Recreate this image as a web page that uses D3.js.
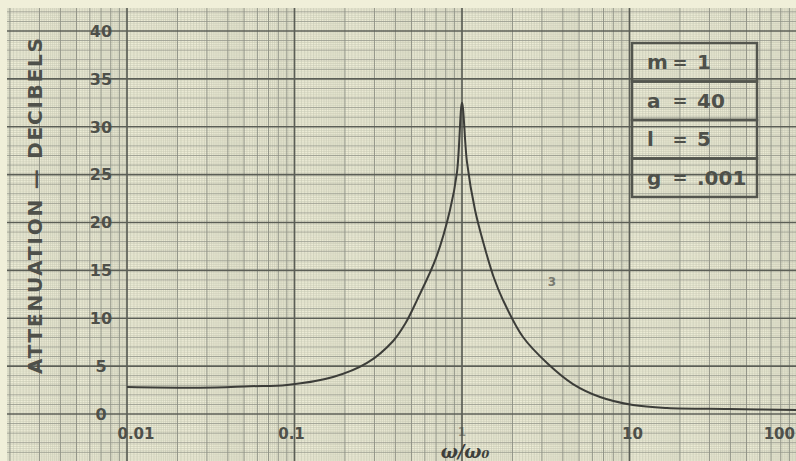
<!DOCTYPE html>
<html lang="en">
<head>
<meta charset="utf-8">
<title>Attenuation vs frequency</title>
<script src="https://d3js.org/d3.v7.min.js"></script>
<style>
  html, body { margin: 0; padding: 0; background: #f0efd9; }
  svg { display: block; }
  .lbl { font-family: "DejaVu Sans", sans-serif; font-weight: bold; fill: #4e504a; }
</style>
</head>
<body>
<div id="chart"></div>
<script>
// values
var omega = [0.01, 0.0273, 0.0542, 0.0902, 0.170, 0.271, 0.387, 0.457, 0.539, 0.700, 0.848, 0.934, 1.0,
             1.071, 1.196, 1.353, 1.552, 1.757, 2.313, 3.218, 4.60, 6.67, 10.5, 16.75, 39.3, 100];
var atten = [2.82, 2.75, 2.9, 3.03, 3.86, 5.33, 7.6, 9.4, 11.9, 16.3, 21.3, 25.3, 32.5,
             26.3, 21.3, 17.65, 14.2, 11.9, 8.04, 5.33, 3.13, 1.78, 0.94, 0.63, 0.52, 0.42];

var xTicks = [0.01, 0.1, 1, 10, 100];
var xTickLabels = ["0.01", "0.1", "1", "10", "100"];
var yTicks = [0, 5, 10, 15, 20, 25, 30, 35, 40];

var paramNames = ["m", "a", "l", "g"];
var paramValues = ["1", "40", "5", ".001"];

var width = 796, height = 461;

var svg = d3.select("#chart").append("svg")
    .attr("width", width)
    .attr("height", height);

var x = d3.scaleLog().domain([0.01, 100]).range([127, 797]);
var y = d3.scaleLinear().domain([0, 40]).range([414, 31]);

svg.append("rect").attr("width", width).attr("height", height).attr("fill", "#f0efd9");

svg.append("clipPath").attr("id", "paper")
  .append("rect").attr("x", 7).attr("y", 8).attr("width", width - 7).attr("height", height - 8);

var grid = svg.append("g").attr("clip-path", "url(#paper)");

// log graph paper: vertical rulings
var vFine = [], vMed = [], vThick = [];
[0.001, 0.01, 0.1, 1, 10].forEach(function(b) {
  vThick.push(b);
  for (var i = 21; i < 40; i++) if (i % 20) vFine.push(b * i / 20);   // 1-2 by .05
  for (var i = 21; i < 50; i++) if (i % 10) vFine.push(b * i / 10);   // 2-5 by .1
  for (var i = 26; i < 50; i++) if (i % 5) vFine.push(b * i / 5);     // 5-10 by .2
  for (var k = 2; k < 10; k++) vMed.push(b * k);
});
vThick.push(100);

// linear rulings every 0.2 dB
var hFine = [], hMed = [], hThick = [];
for (var i = -35; i <= 225; i++) {
  var v = i / 5;
  if (i % 25 === 0) hThick.push(v);
  else if (i % 5 === 0) hMed.push(v);
  else hFine.push(v);
}

function vlines(data, color, w) {
  grid.append("g").selectAll("line").data(data).enter().append("line")
    .attr("x1", function(d) { return x(d); }).attr("x2", function(d) { return x(d); })
    .attr("y1", 0).attr("y2", height)
    .attr("stroke", color).attr("stroke-width", w);
}
function hlines(data, color, w) {
  grid.append("g").selectAll("line").data(data).enter().append("line")
    .attr("y1", function(d) { return y(d); }).attr("y2", function(d) { return y(d); })
    .attr("x1", 0).attr("x2", width)
    .attr("stroke", color).attr("stroke-width", w);
}
hlines(hFine, "#c6c7b4", 0.6);
vlines(vFine, "#c6c7b4", 0.6);
hlines(hMed, "#979a8d", 0.9);
vlines(vMed, "#8f9286", 1);
hlines(hThick, "#5b5e56", 1.7);
vlines(vThick, "#5b5e56", 1.7);

// curve
var line = d3.line()
  .x(function(d, i) { return x(omega[i]); })
  .y(function(d) { return y(d); })
  .curve(d3.curveCatmullRom.alpha(0.5));

svg.append("path")
  .attr("d", line(atten))
  .attr("fill", "none")
  .attr("stroke", "#3c3d39")
  .attr("stroke-width", 2);

// tick labels
svg.append("g").selectAll("text").data(yTicks).enter().append("text")
  .attr("class", "lbl")
  .attr("x", 101).attr("y", function(d) { return y(d); })
  .attr("dy", "0.36em")
  .attr("text-anchor", "middle")
  .attr("font-size", 16)
  .text(function(d) { return d; });

svg.append("g").selectAll("text").data(xTicks).enter().append("text")
  .attr("class", "lbl")
  .attr("x", function(d, i) {
    if (i === 0) return x(d) + 9;
    if (i === xTicks.length - 1) return 795;
    return x(d) + (i === 1 ? -3 : i === 3 ? 3 : 0);
  })
  .attr("y", function(d, i) { return i === 2 ? 436 : 439; })
  .attr("text-anchor", function(d, i) { return i === xTicks.length - 1 ? "end" : "middle"; })
  .attr("font-size", function(d, i) { return i === 2 ? 12 : 15; })
  .attr("fill-opacity", function(d, i) { return i === 2 ? 0.6 : 1; })
  .text(function(d, i) { return xTickLabels[i]; });

svg.append("text")
  .attr("x", 465).attr("y", 458)
  .attr("text-anchor", "middle")
  .attr("font-family", "DejaVu Serif, serif")
  .attr("font-style", "italic")
  .attr("font-weight", "bold")
  .attr("font-size", 18)
  .attr("fill", "#3e3f3b")
  .text("ω/ω₀");

svg.append("text")
  .attr("class", "lbl")
  .attr("transform", "translate(42,206) rotate(-90)")
  .attr("text-anchor", "middle")
  .attr("font-size", 20)
  .attr("textLength", 336)
  .attr("lengthAdjust", "spacing")
  .text("ATTENUATION — DECIBELS");

svg.append("text")
  .attr("class", "lbl")
  .attr("x", 552).attr("y", 286)
  .attr("text-anchor", "middle")
  .attr("font-size", 12)
  .attr("fill-opacity", 0.7)
  .text("3");

// parameter box
var box = svg.append("g");
var bx = 632, bw = 125, by = 43, rh = 38.5;
box.selectAll("rect").data(paramNames).enter().append("rect")
  .attr("x", bx).attr("y", function(d, i) { return by + i * rh; })
  .attr("width", bw).attr("height", rh)
  .attr("fill", "none").attr("stroke", "#53554e").attr("stroke-width", 2.5);
var rows = box.selectAll("g.row").data(paramNames).enter().append("g")
  .attr("transform", function(d, i) { return "translate(0," + (by + i * rh + rh / 2) + ")"; });
rows.append("text").attr("class", "lbl").attr("x", 647).attr("dy", "0.36em")
  .attr("font-size", 20).text(function(d) { return d; });
rows.append("text").attr("class", "lbl").attr("x", 680).attr("dy", "0.36em")
  .attr("text-anchor", "middle").attr("font-size", 18).text("=");
rows.append("text").attr("class", "lbl").attr("x", 697).attr("dy", "0.36em")
  .attr("font-size", 20).text(function(d, i) { return paramValues[i]; });
</script>
</body>
</html>
